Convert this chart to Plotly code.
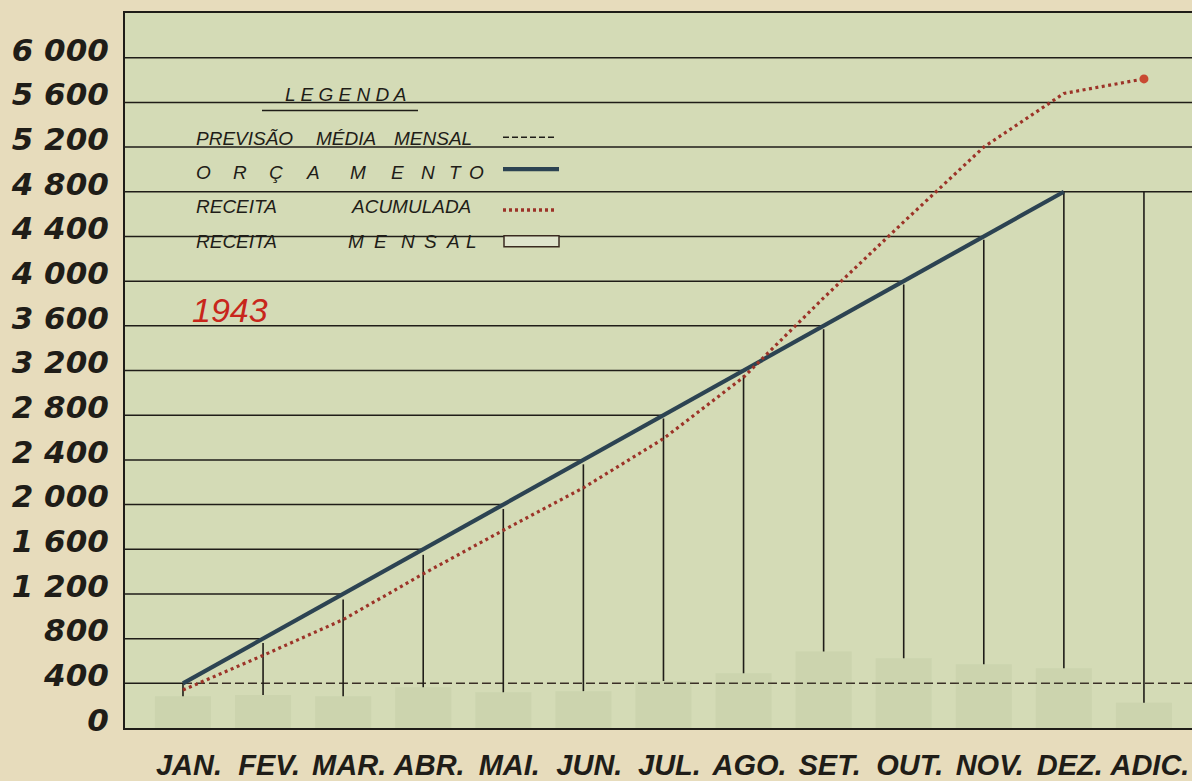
import numpy as np
import plotly.graph_objects as go

# ---------------- data ----------------
months = ["JAN.", "FEV.", "MAR.", "ABR.", "MAI.", "JUN.", "JUL.",
          "AGO.", "SET.", "OUT.", "NOV.", "DEZ.", "ADIC."]
orcamento = [400, 800, 1200, 1600, 2000, 2400, 2800, 3200, 3600, 4000, 4400, 4800, None]
receita_acumulada = [340, 650, 970, 1380, 1770, 2150, 2590, 3140, 3850, 4530, 5200, 5680, 5810]
receita_mensal = [285, 295, 285, 365, 320, 330, 420, 490, 685, 625, 570, 535, 225]
topo_linhas = [400, 760, 1150, 1550, 1960, 2360, 2770, 3160, 3570, 3970, 4370, 4800, 4800]
previsao_media = 400
y_ticks = [0, 400, 800, 1200, 1600, 2000, 2400, 2800, 3200, 3600, 4000, 4400, 4800, 5200, 5600, 6000]
y_labels = ["0", "400", "800", "1 200", "1 600", "2 000", "2 400", "2 800", "3 200",
            "3 600", "4 000", "4 400", "4 800", "5 200", "5 600", "6 000"]
ano = "1943"

# ---------------- styling ----------------
PAPER = "#e7dcbc"
PLOT = "#d4dbb6"
INK = "#1f1d18"
ORC = "#2c4352"
RED = "#9c3328"

W, H = 1192, 781
ML, MR, MT, MB = 125, 0, 13, 49
XMIN, XMAX = -0.724, 12.6


def px(x):
    return (x - ML) / (W - ML - MR)


def py(y):
    return (H - MB - y) / (H - MB - MT)


fig = go.Figure()

# faded monthly revenue bars
fig.add_trace(go.Bar(
    x=months, y=receita_mensal, width=0.7,
    marker=dict(color="rgba(120,140,90,0.08)", line=dict(width=0)),
    showlegend=False, hoverinfo="skip"))

# month vertical lines (from monthly revenue up to budget line)
vx, vy = [], []
for m, b, t in zip(months, receita_mensal, topo_linhas):
    vx += [m, m, None]
    vy += [b, t, None]
fig.add_trace(go.Scatter(x=vx, y=vy, mode="lines",
                         line=dict(color=INK, width=1.6),
                         showlegend=False, hoverinfo="skip"))

# budget (orçamento)
fig.add_trace(go.Scatter(x=months, y=orcamento, mode="lines",
                         line=dict(color=ORC, width=4.2),
                         connectgaps=False, showlegend=False))

# accumulated revenue
fig.add_trace(go.Scatter(x=months, y=receita_acumulada, mode="lines",
                         line=dict(color=RED, width=3.2, dash="3px,3.5px"),
                         showlegend=False))
fig.add_trace(go.Scatter(x=[months[-1]], y=[receita_acumulada[-1]], mode="markers",
                         marker=dict(color="#c94a32", size=9),
                         showlegend=False))

shapes = []
# horizontal grid lines ending at the budget line
orc_vals = [v for v in orcamento if v is not None]
orc_idx = list(range(len(orc_vals)))
for v in y_ticks[1:]:
    if v >= max(orc_vals):
        x1 = XMAX
    else:
        x1 = float(np.interp(v, orc_vals, orc_idx))
    if v == previsao_media:
        x1 = 0
    shapes.append(dict(type="line", xref="x", yref="y", x0=XMIN, x1=x1, y0=v, y1=v,
                       line=dict(color=INK, width=1.5), layer="below"))

# previsão média mensal (dashed)
shapes.append(dict(type="line", xref="x", yref="y", x0=0, x1=XMAX,
                   y0=previsao_media, y1=previsao_media,
                   line=dict(color="#3a2f26", width=1.6, dash="9px,4px"), layer="below"))

# legend background
shapes.append(dict(type="rect", xref="paper", yref="paper",
                   x0=px(172), x1=px(576), y0=py(268), y1=py(66),
                   fillcolor=PLOT, line=dict(width=0), layer="below"))
# legend underline
shapes.append(dict(type="line", xref="paper", yref="paper",
                   x0=px(262), x1=px(418), y0=py(111), y1=py(111),
                   line=dict(color=INK, width=1.6)))
# legend symbols
shapes.append(dict(type="line", xref="paper", yref="paper",
                   x0=px(503), x1=px(557), y0=py(138), y1=py(138),
                   line=dict(color=INK, width=1.6, dash="6px,3px")))
shapes.append(dict(type="line", xref="paper", yref="paper",
                   x0=px(503), x1=px(559), y0=py(170), y1=py(170),
                   line=dict(color=ORC, width=4.2)))
shapes.append(dict(type="line", xref="paper", yref="paper",
                   x0=px(503), x1=px(557), y0=py(211), y1=py(211),
                   line=dict(color=RED, width=3.5, dash="3px,3px")))
shapes.append(dict(type="rect", xref="paper", yref="paper",
                   x0=px(504), x1=px(559), y0=py(248), y1=py(237),
                   fillcolor="#dfe4cc", line=dict(color="#3a2a20", width=1.5)))

annotations = []
LF = dict(family="Liberation Sans, Arial, sans-serif", size=19, color=INK, style="italic")


def txt(s, x, y, font=LF):
    annotations.append(dict(text=s, xref="paper", yref="paper", x=px(x), y=py(y),
                            xanchor="left", yanchor="middle", showarrow=False, font=font))


txt("L E G E N D A", 283, 95)
txt("PREVISÃO", 194, 139)
txt("MÉDIA", 314, 139)
txt("MENSAL", 392, 139)
for ch, x in zip("ORÇAMENTO", [194, 231, 267, 304, 348, 389, 419, 447, 467]):
    txt(ch, x, 173)
txt("RECEITA", 194, 208)
txt("ACUMULADA", 349, 208)
txt("RECEITA", 194, 243)
for ch, x in zip("MENSAL", [346, 372, 399, 422, 444, 464]):
    txt(ch, x, 243)
txt(ano, 190, 312, dict(family="Liberation Sans, Arial, sans-serif", size=34,
                        color="#c8261b", style="italic"))

fig.update_layout(
    width=W, height=H,
    margin=dict(l=ML, r=MR, t=MT, b=MB, pad=0),
    paper_bgcolor=PAPER, plot_bgcolor=PLOT,
    showlegend=False, bargap=0.3,
    shapes=shapes, annotations=annotations,
    xaxis=dict(type="category", categoryorder="array", categoryarray=months,
               range=[XMIN, XMAX], showgrid=False, zeroline=False,
               showline=True, linecolor=INK, linewidth=2, mirror=True,
               ticks="", ticklabelstandoff=10, ticklabelshift=6,
               tickfont=dict(family="Liberation Sans, Arial, sans-serif", size=29,
                             color=INK, style="italic", weight="bold")),
    yaxis=dict(range=[0, 6400], tickvals=y_ticks, ticktext=y_labels,
               showgrid=False, zeroline=False, showline=True, linecolor=INK,
               linewidth=2, ticks="", ticklabelstandoff=8, ticklabelshift=-8,
               tickfont=dict(family="DejaVu Sans, sans-serif", size=31,
                             color=INK, style="italic", weight="bold")),
)

fig.write_html(
    "out.html",
    config={"displayModeBar": False},
    post_script="document.body.style.margin='0';"
                "document.body.style.background='" + PAPER + "';"
                "document.body.style.overflow='hidden';",
)
